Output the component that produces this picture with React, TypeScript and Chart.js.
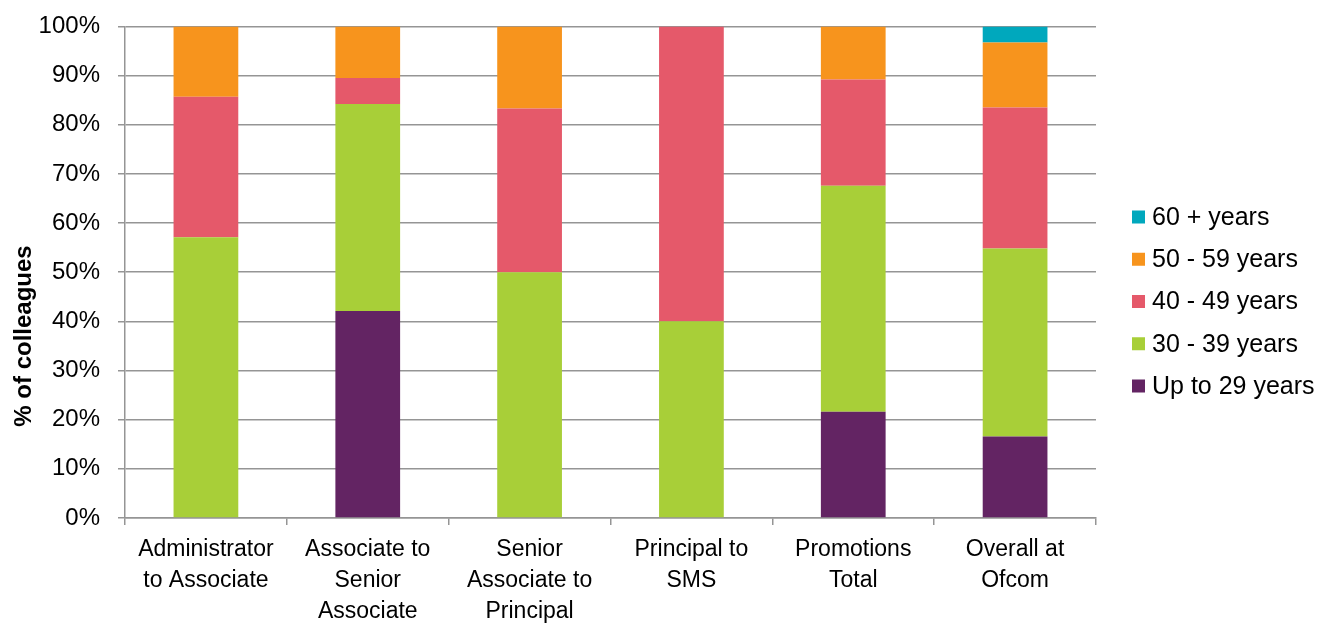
import React, { useEffect, useRef } from "react";
import { Chart, registerables } from "chart.js";

Chart.register(...registerables);

// Promotion groups shown along the x axis
const categories: string[][] = [
  ["Administrator", "to Associate"],
  ["Associate to", "Senior", "Associate"],
  ["Senior", "Associate to", "Principal"],
  ["Principal to", "SMS"],
  ["Promotions", "Total"],
  ["Overall at", "Ofcom"],
];

// Share of colleagues in each age band (%)
const upTo29: number[] = [0, 42.1, 0, 0, 21.6, 16.6];
const age30to39: number[] = [57.1, 42.1, 50, 40, 46.0, 38.2];
const age40to49: number[] = [28.6, 5.3, 33.3, 60, 21.6, 28.7];
const age50to59: number[] = [14.3, 10.5, 16.7, 0, 10.8, 13.2];
const age60plus: number[] = [0, 0, 0, 0, 0, 3.3];

const yTicks: number[] = [0, 10, 20, 30, 40, 50, 60, 70, 80, 90, 100];

const FONT = "'Liberation Sans', Arial, Helvetica, sans-serif";
const GRID = "#959595";
const SHIFT = 6; // canvas is lifted this far above the page top

const series = [
  { label: "Up to 29 years", data: upTo29, color: "#632463" },
  { label: "30 - 39 years", data: age30to39, color: "#A8CF38" },
  { label: "40 - 49 years", data: age40to49, color: "#E5596A" },
  { label: "50 - 59 years", data: age50to59, color: "#F7941D" },
  { label: "60 + years", data: age60plus, color: "#00A8BD" },
];

// Rotated y-axis title placed beside the tick labels
const axisTitlePlugin = {
  id: "axisTitle",
  afterDraw(chart: Chart) {
    const ctx = chart.ctx;
    ctx.save();
    ctx.translate(24, 336 + SHIFT);
    ctx.rotate(-Math.PI / 2);
    ctx.font = `bold 24px ${FONT}`;
    ctx.fillStyle = "#000";
    ctx.textAlign = "center";
    ctx.textBaseline = "middle";
    ctx.fillText("% of colleagues", 0, 0);
    ctx.restore();
  },
};

// Legend drawn at the right, top item is the last series
const sideLegendPlugin = {
  id: "sideLegend",
  afterDraw(chart: Chart) {
    const ctx = chart.ctx;
    const ds = chart.data.datasets;
    const x = 1132;
    const y0 = 217 + SHIFT;
    const step = 42.25;
    ctx.save();
    ctx.font = `25px ${FONT}`;
    ctx.textBaseline = "middle";
    ctx.textAlign = "left";
    for (let i = ds.length - 1, row = 0; i >= 0; i--, row++) {
      const y = y0 + row * step;
      ctx.fillStyle = ds[i].backgroundColor as string;
      ctx.fillRect(x, y - 6.5, 13, 13);
      ctx.fillStyle = "#000";
      ctx.fillText(ds[i].label as string, x + 20, y + 1);
    }
    ctx.restore();
  },
};

export default function App() {
  const canvasRef = useRef<HTMLCanvasElement>(null);

  useEffect(() => {
    if (!canvasRef.current) return;
    const chart = new Chart(canvasRef.current, {
      type: "bar",
      data: {
        labels: categories,
        datasets: series.map((s) => ({
          label: s.label,
          data: s.data,
          backgroundColor: s.color,
          borderWidth: 0,
          barPercentage: 0.4,
          categoryPercentage: 1,
        })),
      },
      options: {
        animation: false,
        responsive: true,
        maintainAspectRatio: false,
        layout: { padding: { left: 8, right: 231, top: 22, bottom: 0 } },
        plugins: {
          legend: { display: false },
          tooltip: { enabled: false },
        },
        scales: {
          x: {
            stacked: true,
            grid: {
              display: true,
              drawOnChartArea: false,
              offset: true,
              tickLength: 7,
              color: GRID,
              lineWidth: 1.5,
            },
            border: { color: GRID, width: 1.5 },
            ticks: {
              color: "#000",
              font: { family: FONT, size: 23, lineHeight: "31px" },
              padding: 9,
              maxRotation: 0,
              autoSkip: false,
            },
          },
          y: {
            stacked: true,
            min: 0,
            max: 100,
            afterFit(scale: any) {
              scale.width = 117;
            },
            afterBuildTicks(scale: any) {
              scale.ticks = yTicks.map((v) => ({ value: v }));
            },
            grid: {
              color: GRID,
              lineWidth: 1.5,
              tickLength: 7,
            },
            border: { color: GRID, width: 1.5 },
            ticks: {
              color: "#000",
              font: { family: FONT, size: 24 },
              padding: 18,
              callback: (v: any) => `${v}%`,
            },
          },
        },
      },
      plugins: [axisTitlePlugin, sideLegendPlugin],
    });
    return () => chart.destroy();
  }, []);

  return (
    <div
      style={{
        position: "fixed",
        left: 0,
        top: -SHIFT,
        width: 1327,
        height: 636 + SHIFT,
        background: "#fff",
      }}
    >
      <canvas ref={canvasRef} />
    </div>
  );
}
